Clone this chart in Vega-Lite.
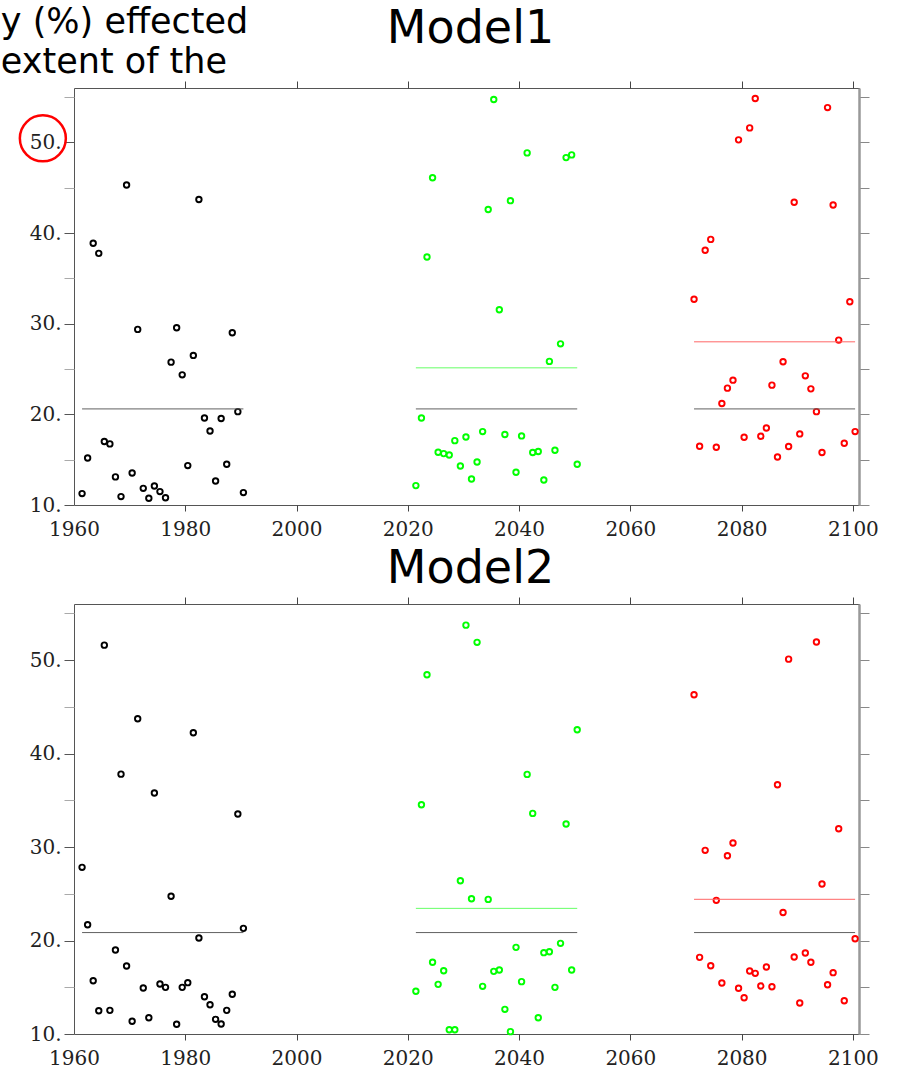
{
  "$schema": "https://vega.github.io/schema/vega-lite/v6.json",
  "padding": {"top": 5, "left": 0, "right": 0, "bottom": 0},
  "background": "white",
  "title": {"text": ["y (%) effected", "extent of the"], "anchor": "start", "frame": "bounds", "font": "DejaVu Sans", "fontSize": 35, "fontWeight": "normal", "color": "black", "lineHeight": 40, "offset": -75, "dx": -13.5},
  "spacing": 5,
  "datasets": {
    "m1": [
      {"period": "1961-1990", "year": 1961.45, "value": 11.26}, {"period": "1961-1990", "year": 1962.45, "value": 15.19}, {"period": "1961-1990", "year": 1963.45, "value": 38.87}, {"period": "1961-1990", "year": 1964.45, "value": 37.76}, {"period": "1961-1990", "year": 1965.45, "value": 17.0}, {"period": "1961-1990", "year": 1966.45, "value": 16.74}, {"period": "1961-1990", "year": 1967.45, "value": 13.1}, {"period": "1961-1990", "year": 1968.45, "value": 10.93}, {"period": "1961-1990", "year": 1969.45, "value": 45.3}, {"period": "1961-1990", "year": 1970.45, "value": 13.53},
      {"period": "1961-1990", "year": 1971.45, "value": 29.37}, {"period": "1961-1990", "year": 1972.45, "value": 11.84}, {"period": "1961-1990", "year": 1973.45, "value": 10.74}, {"period": "1961-1990", "year": 1974.45, "value": 12.1}, {"period": "1961-1990", "year": 1975.45, "value": 11.48}, {"period": "1961-1990", "year": 1976.45, "value": 10.8}, {"period": "1961-1990", "year": 1977.45, "value": 25.76}, {"period": "1961-1990", "year": 1978.45, "value": 29.55}, {"period": "1961-1990", "year": 1979.45, "value": 24.36}, {"period": "1961-1990", "year": 1980.45, "value": 14.35},
      {"period": "1961-1990", "year": 1981.45, "value": 26.5}, {"period": "1961-1990", "year": 1982.45, "value": 43.7}, {"period": "1961-1990", "year": 1983.45, "value": 19.6}, {"period": "1961-1990", "year": 1984.45, "value": 18.17}, {"period": "1961-1990", "year": 1985.45, "value": 12.65}, {"period": "1961-1990", "year": 1986.45, "value": 19.54}, {"period": "1961-1990", "year": 1987.45, "value": 14.5}, {"period": "1961-1990", "year": 1988.45, "value": 29.0}, {"period": "1961-1990", "year": 1989.45, "value": 20.3}, {"period": "1961-1990", "year": 1990.45, "value": 11.37},
      {"period": "2021-2050", "year": 2021.45, "value": 12.14}, {"period": "2021-2050", "year": 2022.45, "value": 19.6}, {"period": "2021-2050", "year": 2023.45, "value": 37.36}, {"period": "2021-2050", "year": 2024.45, "value": 46.1}, {"period": "2021-2050", "year": 2025.45, "value": 15.82}, {"period": "2021-2050", "year": 2026.45, "value": 15.67}, {"period": "2021-2050", "year": 2027.45, "value": 15.52}, {"period": "2021-2050", "year": 2028.45, "value": 17.1}, {"period": "2021-2050", "year": 2029.45, "value": 14.3}, {"period": "2021-2050", "year": 2030.45, "value": 17.5},
      {"period": "2021-2050", "year": 2031.45, "value": 12.87}, {"period": "2021-2050", "year": 2032.45, "value": 14.75}, {"period": "2021-2050", "year": 2033.45, "value": 18.1}, {"period": "2021-2050", "year": 2034.45, "value": 42.6}, {"period": "2021-2050", "year": 2035.45, "value": 54.73}, {"period": "2021-2050", "year": 2036.45, "value": 31.54}, {"period": "2021-2050", "year": 2037.45, "value": 17.77}, {"period": "2021-2050", "year": 2038.45, "value": 43.57}, {"period": "2021-2050", "year": 2039.45, "value": 13.61}, {"period": "2021-2050", "year": 2040.45, "value": 17.62},
      {"period": "2021-2050", "year": 2041.45, "value": 48.84}, {"period": "2021-2050", "year": 2042.45, "value": 15.79}, {"period": "2021-2050", "year": 2043.45, "value": 15.9}, {"period": "2021-2050", "year": 2044.45, "value": 12.76}, {"period": "2021-2050", "year": 2045.45, "value": 25.84}, {"period": "2021-2050", "year": 2046.45, "value": 16.04}, {"period": "2021-2050", "year": 2047.45, "value": 27.78}, {"period": "2021-2050", "year": 2048.45, "value": 48.32}, {"period": "2021-2050", "year": 2049.45, "value": 48.62}, {"period": "2021-2050", "year": 2050.45, "value": 14.5},
      {"period": "2071-2100", "year": 2071.45, "value": 32.7}, {"period": "2071-2100", "year": 2072.45, "value": 16.48}, {"period": "2071-2100", "year": 2073.45, "value": 38.1}, {"period": "2071-2100", "year": 2074.45, "value": 39.3}, {"period": "2071-2100", "year": 2075.45, "value": 16.37}, {"period": "2071-2100", "year": 2076.45, "value": 21.2}, {"period": "2071-2100", "year": 2077.45, "value": 22.89}, {"period": "2071-2100", "year": 2078.45, "value": 23.77}, {"period": "2071-2100", "year": 2079.45, "value": 50.28}, {"period": "2071-2100", "year": 2080.45, "value": 17.48},
      {"period": "2071-2100", "year": 2081.45, "value": 51.6}, {"period": "2071-2100", "year": 2082.45, "value": 54.84}, {"period": "2071-2100", "year": 2083.45, "value": 17.59}, {"period": "2071-2100", "year": 2084.45, "value": 18.5}, {"period": "2071-2100", "year": 2085.45, "value": 23.22}, {"period": "2071-2100", "year": 2086.45, "value": 15.3}, {"period": "2071-2100", "year": 2087.45, "value": 25.8}, {"period": "2071-2100", "year": 2088.45, "value": 16.45}, {"period": "2071-2100", "year": 2089.45, "value": 43.4}, {"period": "2071-2100", "year": 2090.45, "value": 17.84},
      {"period": "2071-2100", "year": 2091.45, "value": 24.25}, {"period": "2071-2100", "year": 2092.45, "value": 22.81}, {"period": "2071-2100", "year": 2093.45, "value": 20.3}, {"period": "2071-2100", "year": 2094.45, "value": 15.79}, {"period": "2071-2100", "year": 2095.45, "value": 53.84}, {"period": "2071-2100", "year": 2096.45, "value": 43.1}, {"period": "2071-2100", "year": 2097.45, "value": 28.19}, {"period": "2071-2100", "year": 2098.45, "value": 16.81}, {"period": "2071-2100", "year": 2099.45, "value": 32.42}, {"period": "2071-2100", "year": 2100.4, "value": 18.1}
    ],
    "m2": [
      {"period": "1961-1990", "year": 1961.45, "value": 27.83}, {"period": "1961-1990", "year": 1962.45, "value": 21.69}, {"period": "1961-1990", "year": 1963.45, "value": 15.7}, {"period": "1961-1990", "year": 1964.45, "value": 12.49}, {"period": "1961-1990", "year": 1965.45, "value": 51.6}, {"period": "1961-1990", "year": 1966.45, "value": 12.53}, {"period": "1961-1990", "year": 1967.45, "value": 18.98}, {"period": "1961-1990", "year": 1968.45, "value": 37.8}, {"period": "1961-1990", "year": 1969.45, "value": 17.27}, {"period": "1961-1990", "year": 1970.45, "value": 11.36},
      {"period": "1961-1990", "year": 1971.45, "value": 43.72}, {"period": "1961-1990", "year": 1972.45, "value": 14.92}, {"period": "1961-1990", "year": 1973.45, "value": 11.74}, {"period": "1961-1990", "year": 1974.45, "value": 35.78}, {"period": "1961-1990", "year": 1975.45, "value": 15.35}, {"period": "1961-1990", "year": 1976.45, "value": 14.99}, {"period": "1961-1990", "year": 1977.45, "value": 24.73}, {"period": "1961-1990", "year": 1978.45, "value": 11.04}, {"period": "1961-1990", "year": 1979.45, "value": 14.99}, {"period": "1961-1990", "year": 1980.45, "value": 15.49},
      {"period": "1961-1990", "year": 1981.45, "value": 42.22}, {"period": "1961-1990", "year": 1982.45, "value": 20.27}, {"period": "1961-1990", "year": 1983.45, "value": 13.99}, {"period": "1961-1990", "year": 1984.45, "value": 13.13}, {"period": "1961-1990", "year": 1985.45, "value": 11.57}, {"period": "1961-1990", "year": 1986.45, "value": 11.07}, {"period": "1961-1990", "year": 1987.45, "value": 12.53}, {"period": "1961-1990", "year": 1988.45, "value": 14.25}, {"period": "1961-1990", "year": 1989.45, "value": 33.53}, {"period": "1961-1990", "year": 1990.45, "value": 21.3},
      {"period": "2021-2050", "year": 2021.45, "value": 14.57}, {"period": "2021-2050", "year": 2022.45, "value": 34.53}, {"period": "2021-2050", "year": 2023.45, "value": 48.43}, {"period": "2021-2050", "year": 2024.45, "value": 17.67}, {"period": "2021-2050", "year": 2025.45, "value": 15.31}, {"period": "2021-2050", "year": 2026.45, "value": 16.77}, {"period": "2021-2050", "year": 2027.45, "value": 10.46}, {"period": "2021-2050", "year": 2028.45, "value": 10.46}, {"period": "2021-2050", "year": 2029.45, "value": 26.4}, {"period": "2021-2050", "year": 2030.45, "value": 53.74},
      {"period": "2021-2050", "year": 2031.45, "value": 24.47}, {"period": "2021-2050", "year": 2032.45, "value": 51.9}, {"period": "2021-2050", "year": 2033.45, "value": 15.1}, {"period": "2021-2050", "year": 2034.45, "value": 24.4}, {"period": "2021-2050", "year": 2035.45, "value": 16.7}, {"period": "2021-2050", "year": 2036.45, "value": 16.84}, {"period": "2021-2050", "year": 2037.45, "value": 12.64}, {"period": "2021-2050", "year": 2038.45, "value": 10.25}, {"period": "2021-2050", "year": 2039.45, "value": 19.27}, {"period": "2021-2050", "year": 2040.45, "value": 15.6},
      {"period": "2021-2050", "year": 2041.45, "value": 37.77}, {"period": "2021-2050", "year": 2042.45, "value": 33.6}, {"period": "2021-2050", "year": 2043.45, "value": 11.74}, {"period": "2021-2050", "year": 2044.45, "value": 18.7}, {"period": "2021-2050", "year": 2045.45, "value": 18.8}, {"period": "2021-2050", "year": 2046.45, "value": 14.99}, {"period": "2021-2050", "year": 2047.45, "value": 19.7}, {"period": "2021-2050", "year": 2048.45, "value": 32.46}, {"period": "2021-2050", "year": 2049.45, "value": 16.84}, {"period": "2021-2050", "year": 2050.45, "value": 42.55},
      {"period": "2071-2100", "year": 2071.45, "value": 46.29}, {"period": "2071-2100", "year": 2072.45, "value": 18.2}, {"period": "2071-2100", "year": 2073.45, "value": 29.65}, {"period": "2071-2100", "year": 2074.45, "value": 17.3}, {"period": "2071-2100", "year": 2075.45, "value": 24.3}, {"period": "2071-2100", "year": 2076.45, "value": 15.45}, {"period": "2071-2100", "year": 2077.45, "value": 29.07}, {"period": "2071-2100", "year": 2078.45, "value": 30.43}, {"period": "2071-2100", "year": 2079.45, "value": 14.89}, {"period": "2071-2100", "year": 2080.45, "value": 13.88},
      {"period": "2071-2100", "year": 2081.45, "value": 16.74}, {"period": "2071-2100", "year": 2082.45, "value": 16.49}, {"period": "2071-2100", "year": 2083.45, "value": 15.13}, {"period": "2071-2100", "year": 2084.45, "value": 17.17}, {"period": "2071-2100", "year": 2085.45, "value": 15.06}, {"period": "2071-2100", "year": 2086.45, "value": 36.67}, {"period": "2071-2100", "year": 2087.45, "value": 23.0}, {"period": "2071-2100", "year": 2088.45, "value": 50.1}, {"period": "2071-2100", "year": 2089.45, "value": 18.24}, {"period": "2071-2100", "year": 2090.45, "value": 13.32},
      {"period": "2071-2100", "year": 2091.45, "value": 18.66}, {"period": "2071-2100", "year": 2092.45, "value": 17.67}, {"period": "2071-2100", "year": 2093.45, "value": 51.93}, {"period": "2071-2100", "year": 2094.45, "value": 26.04}, {"period": "2071-2100", "year": 2095.45, "value": 15.27}, {"period": "2071-2100", "year": 2096.45, "value": 16.56}, {"period": "2071-2100", "year": 2097.45, "value": 31.96}, {"period": "2071-2100", "year": 2098.45, "value": 13.56}, {"period": "2071-2100", "year": 2100.4, "value": 20.19}
    ],
    "m1mean": [
      {"series": "base", "start": 1961.45, "end": 1990.45, "value": 20.6},
      {"series": "base", "start": 2021.45, "end": 2050.45, "value": 20.6},
      {"series": "base", "start": 2071.45, "end": 2100.4, "value": 20.6},
      {"series": "p2", "start": 2021.45, "end": 2050.45, "value": 25.13},
      {"series": "p3", "start": 2071.45, "end": 2100.4, "value": 28.0}
    ],
    "m2mean": [
      {"series": "base", "start": 1961.45, "end": 1990.45, "value": 20.85},
      {"series": "base", "start": 2021.45, "end": 2050.45, "value": 20.85},
      {"series": "base", "start": 2071.45, "end": 2100.4, "value": 20.85},
      {"series": "p2", "start": 2021.45, "end": 2050.45, "value": 23.44},
      {"series": "p3", "start": 2071.45, "end": 2100.4, "value": 24.41}
    ],
    "note": [{"year": 1954.4, "value": 50.45}]
  },
  "vconcat": [
    {
      "title": {"text": "Model1", "offset": 28, "dx": 4},
      "width": 785,
      "height": 417,
      "layer": [
        {
          "data": {"name": "m1"},
          "mark": {"type": "point", "shape": "circle", "filled": false, "size": 30, "strokeWidth": 1.9, "opacity": 1},
          "encoding": {
            "x": {"field": "year", "type": "quantitative", "scale": {"domain": [1960, 2101.1], "nice": false, "zero": false},
                  "axis": {"orient": "bottom", "title": null, "values": [1960, 1980, 2000, 2020, 2040, 2060, 2080, 2100], "format": "d", "tickSize": 6, "tickColor": "#444", "tickOpacity": {"condition": {"test": "datum.value < 1961", "value": 0}, "value": 1}, "domain": false, "labelPadding": 8}},
            "y": {"field": "value", "type": "quantitative", "scale": {"domain": [10, 56], "nice": false, "zero": false},
                  "axis": {"orient": "left", "title": null, "values": [10, 15, 20, 25, 30, 35, 40, 45, 50, 55], "labelExpr": "datum.value % 10 === 0 ? datum.value + '.' : ''", "tickSize": 10, "tickColor": {"condition": {"test": "datum.value % 10 === 0", "value": "#555"}, "value": "#aaa"}, "domain": false, "labelPadding": 3}},
            "color": {"field": "period", "type": "nominal", "scale": {"domain": ["1961-1990", "2021-2050", "2071-2100"], "range": ["#000000", "#00ff00", "#ff0000"]}, "legend": null}
          }
        },
        {
          "data": {"name": "m1mean"},
          "mark": {"type": "rule", "strokeWidth": 1},
          "encoding": {
            "x": {"field": "start", "type": "quantitative", "scale": {"domain": [1960, 2101.1], "nice": false, "zero": false},
                  "axis": {"orient": "top", "title": null, "values": [1980, 2000, 2020, 2040, 2060, 2080, 2100], "labels": false, "tickSize": 7, "tickColor": "#444", "domain": false}},
            "x2": {"field": "end"},
            "y": {"field": "value", "type": "quantitative", "scale": {"domain": [10, 56], "nice": false, "zero": false},
                  "axis": {"orient": "right", "title": null, "values": [10, 15, 20, 25, 30, 35, 40, 45, 50, 55], "labels": false, "tickSize": 10, "tickColor": "#888", "domain": true, "domainColor": "#999", "domainWidth": 2.5}},
            "stroke": {"field": "series", "type": "nominal", "scale": {"domain": ["base", "p2", "p3"], "range": ["#606060", "#66ff66", "#ff6666"]}, "legend": null}
          }
        },
        {
          "data": {"name": "note"},
          "mark": {"type": "point", "shape": "circle", "filled": false, "size": 2116, "strokeWidth": 2.5, "color": "#ff0000", "opacity": 1, "clip": false},
          "encoding": {
            "x": {"field": "year", "type": "quantitative", "scale": {"domain": [1960, 2101.1], "nice": false, "zero": false}, "axis": null},
            "y": {"field": "value", "type": "quantitative", "scale": {"domain": [10, 56], "nice": false, "zero": false}, "axis": null}
          }
        }
      ],
      "resolve": {"axis": {"x": "independent", "y": "independent"}}
    },
    {
      "title": {"text": "Model2", "offset": 4, "dx": 4},
      "width": 785,
      "height": 430,
      "layer": [
        {
          "data": {"name": "m2"},
          "mark": {"type": "point", "shape": "circle", "filled": false, "size": 30, "strokeWidth": 1.9, "opacity": 1},
          "encoding": {
            "x": {"field": "year", "type": "quantitative", "scale": {"domain": [1960, 2101.1], "nice": false, "zero": false},
                  "axis": {"orient": "bottom", "title": null, "values": [1960, 1980, 2000, 2020, 2040, 2060, 2080, 2100], "format": "d", "tickSize": 6, "tickColor": "#444", "tickOpacity": {"condition": {"test": "datum.value < 1961", "value": 0}, "value": 1}, "domain": false, "labelPadding": 8}},
            "y": {"field": "value", "type": "quantitative", "scale": {"domain": [10, 56], "nice": false, "zero": false},
                  "axis": {"orient": "left", "title": null, "values": [10, 15, 20, 25, 30, 35, 40, 45, 50, 55], "labelExpr": "datum.value % 10 === 0 ? datum.value + '.' : ''", "tickSize": 10, "tickColor": {"condition": {"test": "datum.value % 10 === 0", "value": "#555"}, "value": "#aaa"}, "domain": false, "labelPadding": 3}},
            "color": {"field": "period", "type": "nominal", "scale": {"domain": ["1961-1990", "2021-2050", "2071-2100"], "range": ["#000000", "#00ff00", "#ff0000"]}, "legend": null}
          }
        },
        {
          "data": {"name": "m2mean"},
          "mark": {"type": "rule", "strokeWidth": 1},
          "encoding": {
            "x": {"field": "start", "type": "quantitative", "scale": {"domain": [1960, 2101.1], "nice": false, "zero": false},
                  "axis": {"orient": "top", "title": null, "values": [1980, 2000, 2020, 2040, 2060, 2080, 2100], "labels": false, "tickSize": 7, "tickColor": "#444", "domain": false}},
            "x2": {"field": "end"},
            "y": {"field": "value", "type": "quantitative", "scale": {"domain": [10, 56], "nice": false, "zero": false},
                  "axis": {"orient": "right", "title": null, "values": [10, 15, 20, 25, 30, 35, 40, 45, 50, 55], "labels": false, "tickSize": 10, "tickColor": "#888", "domain": true, "domainColor": "#999", "domainWidth": 2.5}},
            "stroke": {"field": "series", "type": "nominal", "scale": {"domain": ["base", "p2", "p3"], "range": ["#606060", "#66ff66", "#ff6666"]}, "legend": null}
          }
        }
      ],
      "resolve": {"axis": {"x": "independent", "y": "independent"}}
    }
  ],
  "config": {
    "view": {"stroke": "#555", "strokeWidth": 1},
    "axis": {"grid": false, "labelFont": "DejaVu Serif", "labelFontSize": 20, "labelColor": "#222", "labelFontWeight": "normal"},
    "axisX": {"labelFontSize": 20, "labelFlush": false, "labelOverlap": false},
    "title": {"font": "DejaVu Sans", "fontSize": 46, "fontWeight": "normal", "color": "#000000", "anchor": "middle", "frame": "group"}
  }
}
